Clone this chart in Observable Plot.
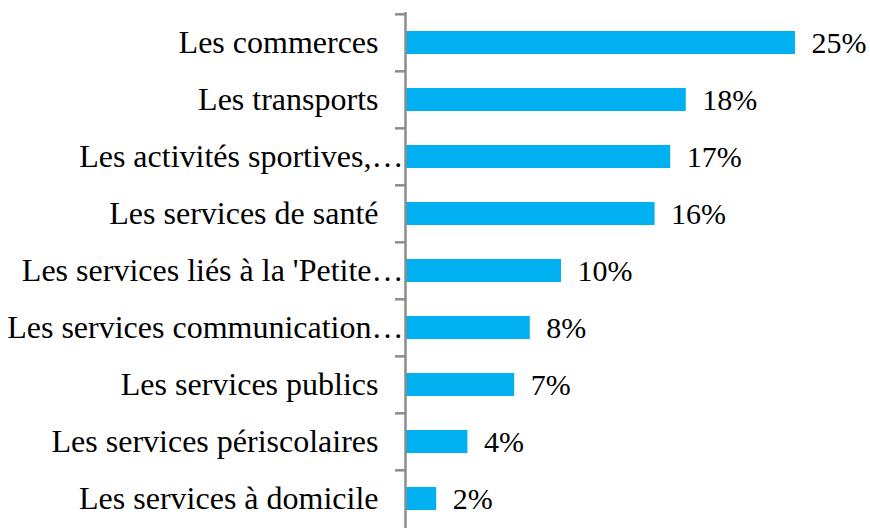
<!DOCTYPE html>
<html>
<head>
<meta charset="utf-8">
<script src="https://cdn.jsdelivr.net/npm/d3@7"></script>
<script src="https://cdn.jsdelivr.net/npm/@observablehq/plot@0.6"></script>
<style>
  html, body { margin: 0; padding: 0; background: #fff; overflow: hidden; }
</style>
</head>
<body>
<div id="chart"></div>
<script>
const categories = [
  "Les commerces",
  "Les transports",
  "Les activités sportives,…",
  "Les services de santé",
  "Les services liés à la 'Petite…",
  "Les services communication…",
  "Les services publics",
  "Les services périscolaires",
  "Les services à domicile"
];
const values = [25, 18, 17, 16, 10, 8, 7, 4, 2];
const valueLabels = ["25%", "18%", "17%", "16%", "10%", "8%", "7%", "4%", "2%"];

const data = categories.map((c, i) => ({cat: c, value: values[i], label: valueLabels[i]}));

const W = 870, H = 528;
const mL = 405, mR = 75, mT = 12, mB = 0;
const pxPerUnit = (W - mL - mR) / 25;
const step = (H - mT - mB) / categories.length;
const tickLen = 10 / pxPerUnit;

const font = "'Liberation Serif', 'Times New Roman', serif";

const chart = Plot.plot({
  width: W,
  height: H,
  marginLeft: mL,
  marginRight: mR,
  marginTop: mT,
  marginBottom: mB,
  style: {fontFamily: font, fontSize: "30px", background: "#fff", color: "#000", overflow: "visible"},
  x: {domain: [0, 25], axis: null},
  y: {domain: categories, axis: null, paddingInner: 0.6, paddingOuter: 0.3, align: 0.5},
  marks: [
    Plot.barX(data, {x: "value", y: "cat", fill: "#00B0F0"}),
    Plot.ruleX([0], {stroke: "#8c8c8c", strokeWidth: 2.5}),
    Plot.ruleY(categories, {y: d => d, x1: -tickLen, x2: 0, dy: -step / 2, stroke: "#8c8c8c", strokeWidth: 2.5}),
    Plot.text(data.filter(d => !d.cat.endsWith("…")), {x: 0, y: "cat", text: "cat", textAnchor: "end", dx: -27, fontSize: 32, fill: "#000"}),
    Plot.text(data.filter(d => d.cat.endsWith("…")), {x: 0, y: "cat", text: "cat", textAnchor: "end", dx: -2, fontSize: 32, fill: "#000"}),
    Plot.text(data, {x: "value", y: "cat", text: "label", textAnchor: "start", dx: 16, fontSize: 30, fill: "#000"})
  ]
});
document.getElementById("chart").appendChild(chart);
</script>
</body>
</html>
